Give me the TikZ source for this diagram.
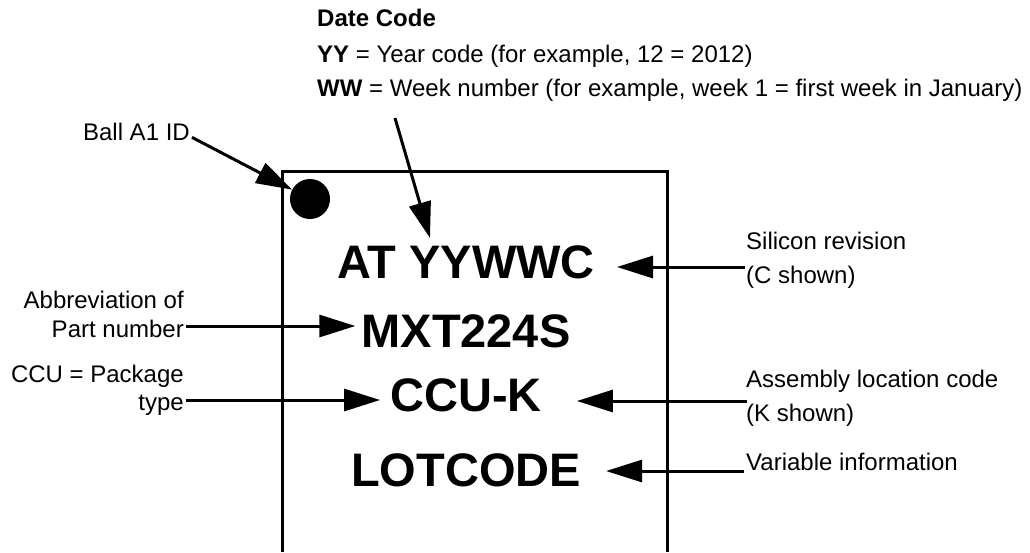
\documentclass[tikz,border=0pt]{standalone}
\usepackage{fontspec}
\setmainfont{Liberation Sans}
\usetikzlibrary{arrows.meta}
\begin{document}
\begin{tikzpicture}[x=1pt,y=-1pt,
  lbl/.style={inner sep=0pt, font=\fontsize{24}{28}\selectfont},
  big/.style={inner sep=0pt, font=\fontsize{47}{50}\selectfont\bfseries},
  arr/.style={line width=3pt, -{Triangle[length=36pt,width=22pt]}},
  edge/.style={line width=3pt}]
\useasboundingbox (0,0) rectangle (1030,552);

% chip outline (open at the bottom)
\draw[edge] (282,552) -- (282,171) -- (667,171) -- (667,552);
\node[circle, fill=black, minimum size=40pt, inner sep=0pt] (ball) at (310,199) {};

% marking lines
\node[big, anchor=base] (l1) at (466,278) {AT YYWWC};
\node[big, anchor=base] (l2) at (466,347) {MXT224S};
\node[big, anchor=base] (l3) at (466,411) {CCU-K};
\node[big, anchor=base] (l4) at (466,486) {LOTCODE};

% date code legend
\node[lbl, anchor=base west] (dc) at (317,26) {\bfseries Date Code};
\node[lbl, anchor=base west] (yy) at (317,62) {\textbf{YY} = Year code (for example, 12 = 2012)};
\node[lbl, anchor=base west] (ww) at (317,96) {\textbf{WW} = Week number (for example, week 1 = first week in January)};
\coordinate (dcs) at (395,118);
\coordinate (dct) at (430,238);
\draw[arr] (dcs) -- (dct);

% ball A1
\node[lbl, anchor=base east] (ballt) at (190,140) {Ball A1 ID};
\draw[arr] ([xshift=2pt]ballt.mid east) -- (ball);

% left labels
\node[lbl, anchor=base east] (ab1) at (184,308) {Abbreviation of};
\node[lbl, anchor=base east] (ab2) at (184,337) {Part number};
\coordinate (abs) at ([xshift=2pt,yshift=11pt]ab2.base east);
\draw[arr] (abs) -- ([xshift=-6pt]abs -| l2.west);

\node[lbl, anchor=base east] (pk1) at (184,382) {CCU = Package};
\node[lbl, anchor=base east] (pk2) at (184,410) {type};
\coordinate (pks) at ([xshift=2pt,yshift=10pt]pk2.base east);
\draw[arr] (pks) -- ([xshift=-10pt]pks -| l3.west);

% right labels
\node[lbl, anchor=base west] (si1) at (746,249) {Silicon revision};
\node[lbl, anchor=base west] (si2) at (746,283) {(C shown)};
\coordinate (sis) at ([xshift=-1pt,yshift=16pt]si2.base west);
\draw[arr] (sis) -- ([xshift=22pt]sis -| l1.east);

\node[lbl, anchor=base west] (as1) at (746,387) {Assembly location code};
\node[lbl, anchor=base west] (as2) at (746,421) {(K shown)};
\coordinate (ass) at ([xshift=1pt,yshift=20pt]as2.base west);
\draw[arr] (ass) -- ([xshift=35pt]ass -| l3.east);

\node[lbl, anchor=base west] (vi) at (746,470) {Variable information};
\coordinate (vis) at ([xshift=-2pt,yshift=-1pt]vi.base west);
\draw[arr] (vis) -- ([xshift=25pt]vis -| l4.east);
\end{tikzpicture}
\end{document}
